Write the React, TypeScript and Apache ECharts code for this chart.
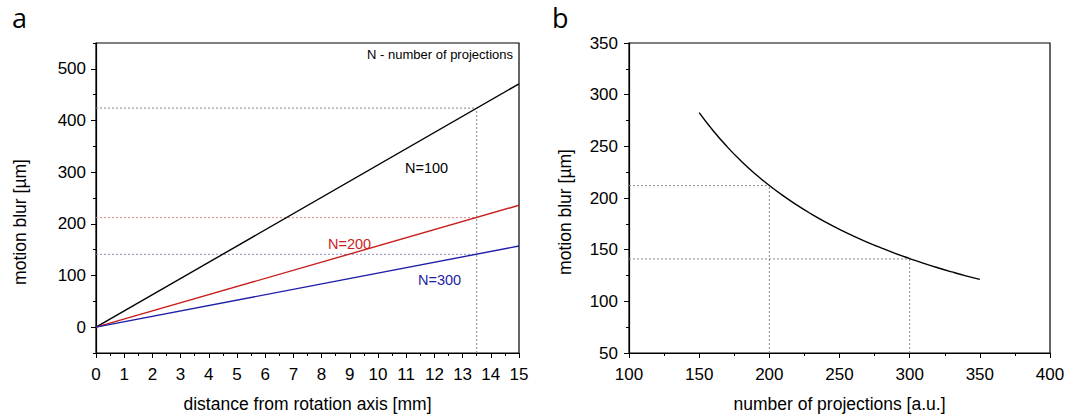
import React, { useEffect, useRef } from "react";
import * as echarts from "echarts";

// ---- data ----
const distanceMm = [0, 15];
const blurN100 = [0, 471];
const blurN200 = [0, 236];
const blurN300 = [0, 157];

const refDistance = 13.5;
const refBlur100 = 424;
const refBlur200 = 212;
const refBlur300 = 141;
const refProjections = [200, 300];

const projections = [150, 160, 170, 180, 190, 200, 210, 220, 230, 240, 250, 260, 270, 280, 290, 300, 310, 320, 330, 340, 350];
const blurVsProjections = [282.7, 265.1, 249.5, 235.6, 223.2, 212.1, 202.0, 192.8, 184.4, 176.7, 169.6, 163.1, 157.1, 151.5, 146.2, 141.4, 136.8, 132.5, 128.5, 124.7, 121.2];

const leftYTicks = [0, 100, 200, 300, 400, 500];
const leftYMinorTicks = [-50, 50, 150, 250, 350, 450, 550];

const FONT = "'Liberation Sans', Arial, Helvetica, sans-serif";

export default function App() {
  const ref = useRef<HTMLDivElement>(null);
  useEffect(() => {
    if (!ref.current) return;
    const chart = echarts.init(ref.current, undefined, { renderer: "svg" });
    const axisLine = { show: true, onZero: false, lineStyle: { color: "#000", width: 1.2 } };
    const axisLabel = { color: "#000", fontSize: 17, fontFamily: FONT, margin: 10 };
    const nameStyle = { color: "#000", fontSize: 17.5, fontFamily: FONT };
    const majorTick = { show: true, inside: false, length: 5, lineStyle: { color: "#000" } };
    const minorTick = { show: true, splitNumber: 2, length: 3, lineStyle: { color: "#000" } };
    const dotted = (color: string) => ({ color, width: 1, type: [2, 2] as any });
    const pair = (xs: number[], ys: number[]) => xs.map((x, i) => [x, ys[i]]);

    chart.setOption({
      animation: false,
      grid: [
        { left: 96, top: 43, width: 423, height: 313, show: true, borderColor: "#000", borderWidth: 1.2, backgroundColor: "transparent" },
        { left: 629, top: 43, width: 421, height: 313, show: true, borderColor: "#000", borderWidth: 1.2, backgroundColor: "transparent" },
      ],
      xAxis: [
        {
          type: "value", gridIndex: 0, min: 0, max: 15, interval: 1,
          axisLine, axisLabel: { ...axisLabel, margin: 13 }, axisTick: majorTick, minorTick,
          splitLine: { show: false },
          name: "distance from rotation axis [mm]", nameLocation: "middle", nameGap: 42, nameTextStyle: nameStyle,
        },
        {
          type: "value", gridIndex: 1, min: 100, max: 400, interval: 50,
          axisLine, axisLabel: { ...axisLabel, margin: 13 }, axisTick: majorTick, minorTick,
          splitLine: { show: false },
          name: "number of projections [a.u.]", nameLocation: "middle", nameGap: 42, nameTextStyle: nameStyle,
        },
      ],
      yAxis: [
        {
          type: "value", gridIndex: 0, min: -50, max: 550,
          axisLine,
          axisLabel: { ...axisLabel, customValues: leftYTicks },
          axisTick: { ...majorTick, customValues: leftYTicks },
          splitLine: { show: false },
        },
        {
          type: "value", gridIndex: 0, min: -50, max: 550, position: "left",
          axisLine: { show: false },
          axisLabel: { show: false },
          axisTick: { show: true, inside: false, length: 3, customValues: leftYMinorTicks, lineStyle: { color: "#000" } },
          splitLine: { show: false },
        },
        {
          type: "value", gridIndex: 1, min: 50, max: 350, interval: 50,
          axisLine, axisLabel: { ...axisLabel, margin: 11 }, axisTick: majorTick, minorTick,
          splitLine: { show: false },
        },
      ],
      series: [
        // guides, left
        { type: "line", xAxisIndex: 0, yAxisIndex: 0, symbol: "none", silent: true, lineStyle: dotted("#888"), data: [[0, refBlur100], [refDistance, refBlur100]] },
        { type: "line", xAxisIndex: 0, yAxisIndex: 0, symbol: "none", silent: true, lineStyle: dotted("#d68a8a"), data: [[0, refBlur200], [refDistance, refBlur200]] },
        { type: "line", xAxisIndex: 0, yAxisIndex: 0, symbol: "none", silent: true, lineStyle: dotted("#8a8ac4"), data: [[0, refBlur300], [refDistance, refBlur300]] },
        { type: "line", xAxisIndex: 0, yAxisIndex: 0, symbol: "none", silent: true, lineStyle: dotted("#888"), data: [[refDistance, -50], [refDistance, refBlur100]] },
        // main lines, left
        { type: "line", xAxisIndex: 0, yAxisIndex: 0, symbol: "none", lineStyle: { color: "#000", width: 1.4 }, data: pair(distanceMm, blurN100) },
        { type: "line", xAxisIndex: 0, yAxisIndex: 0, symbol: "none", lineStyle: { color: "#c81e1e", width: 1.4 }, data: pair(distanceMm, blurN200) },
        { type: "line", xAxisIndex: 0, yAxisIndex: 0, symbol: "none", lineStyle: { color: "#1e1ea8", width: 1.4 }, data: pair(distanceMm, blurN300) },
        // guides, right
        { type: "line", xAxisIndex: 1, yAxisIndex: 2, symbol: "none", silent: true, lineStyle: dotted("#888"), data: [[100, refBlur200], [refProjections[0], refBlur200]] },
        { type: "line", xAxisIndex: 1, yAxisIndex: 2, symbol: "none", silent: true, lineStyle: dotted("#888"), data: [[refProjections[0], 50], [refProjections[0], refBlur200]] },
        { type: "line", xAxisIndex: 1, yAxisIndex: 2, symbol: "none", silent: true, lineStyle: dotted("#888"), data: [[100, refBlur300], [refProjections[1], refBlur300]] },
        { type: "line", xAxisIndex: 1, yAxisIndex: 2, symbol: "none", silent: true, lineStyle: dotted("#888"), data: [[refProjections[1], 50], [refProjections[1], refBlur300]] },
        // curve, right
        { type: "line", xAxisIndex: 1, yAxisIndex: 2, symbol: "none", smooth: true, lineStyle: { color: "#000", width: 1.4 }, data: pair(projections, blurVsProjections) },
      ],
      graphic: [
        { type: "text", left: 12, top: 4, style: { text: "a", fontSize: 27, fontFamily: "'Open Sans', sans-serif", fill: "#000" } },
        { type: "text", left: 552, top: 4, style: { text: "b", fontSize: 27, fontFamily: "'Open Sans', sans-serif", fill: "#000" } },
        { type: "text", x: 20, y: 222, rotation: Math.PI / 2, style: { text: "motion blur [µm]", fontSize: 17.5, fontFamily: FONT, fill: "#000", align: "center", verticalAlign: "middle" } },
        { type: "text", x: 565, y: 212, rotation: Math.PI / 2, style: { text: "motion blur [µm]", fontSize: 17.5, fontFamily: FONT, fill: "#000", align: "center", verticalAlign: "middle" } },
        { type: "text", x: 513, y: 54, style: { text: "N - number of projections", fontSize: 13, fontFamily: FONT, fill: "#000", align: "right", verticalAlign: "middle" } },
        { type: "text", x: 405, y: 168, style: { text: "N=100", fontSize: 14.5, fontFamily: FONT, fill: "#000", verticalAlign: "middle" } },
        { type: "text", x: 328, y: 244, style: { text: "N=200", fontSize: 14.5, fontFamily: FONT, fill: "#c81e1e", verticalAlign: "middle" } },
        { type: "text", x: 418, y: 280, style: { text: "N=300", fontSize: 14.5, fontFamily: FONT, fill: "#1e1ea8", verticalAlign: "middle" } },
      ],
    });
    return () => chart.dispose();
  }, []);
  return <div ref={ref} style={{ position: "fixed", left: 0, top: 0, width: 1079, height: 418, background: "#fff" }} />;
}
